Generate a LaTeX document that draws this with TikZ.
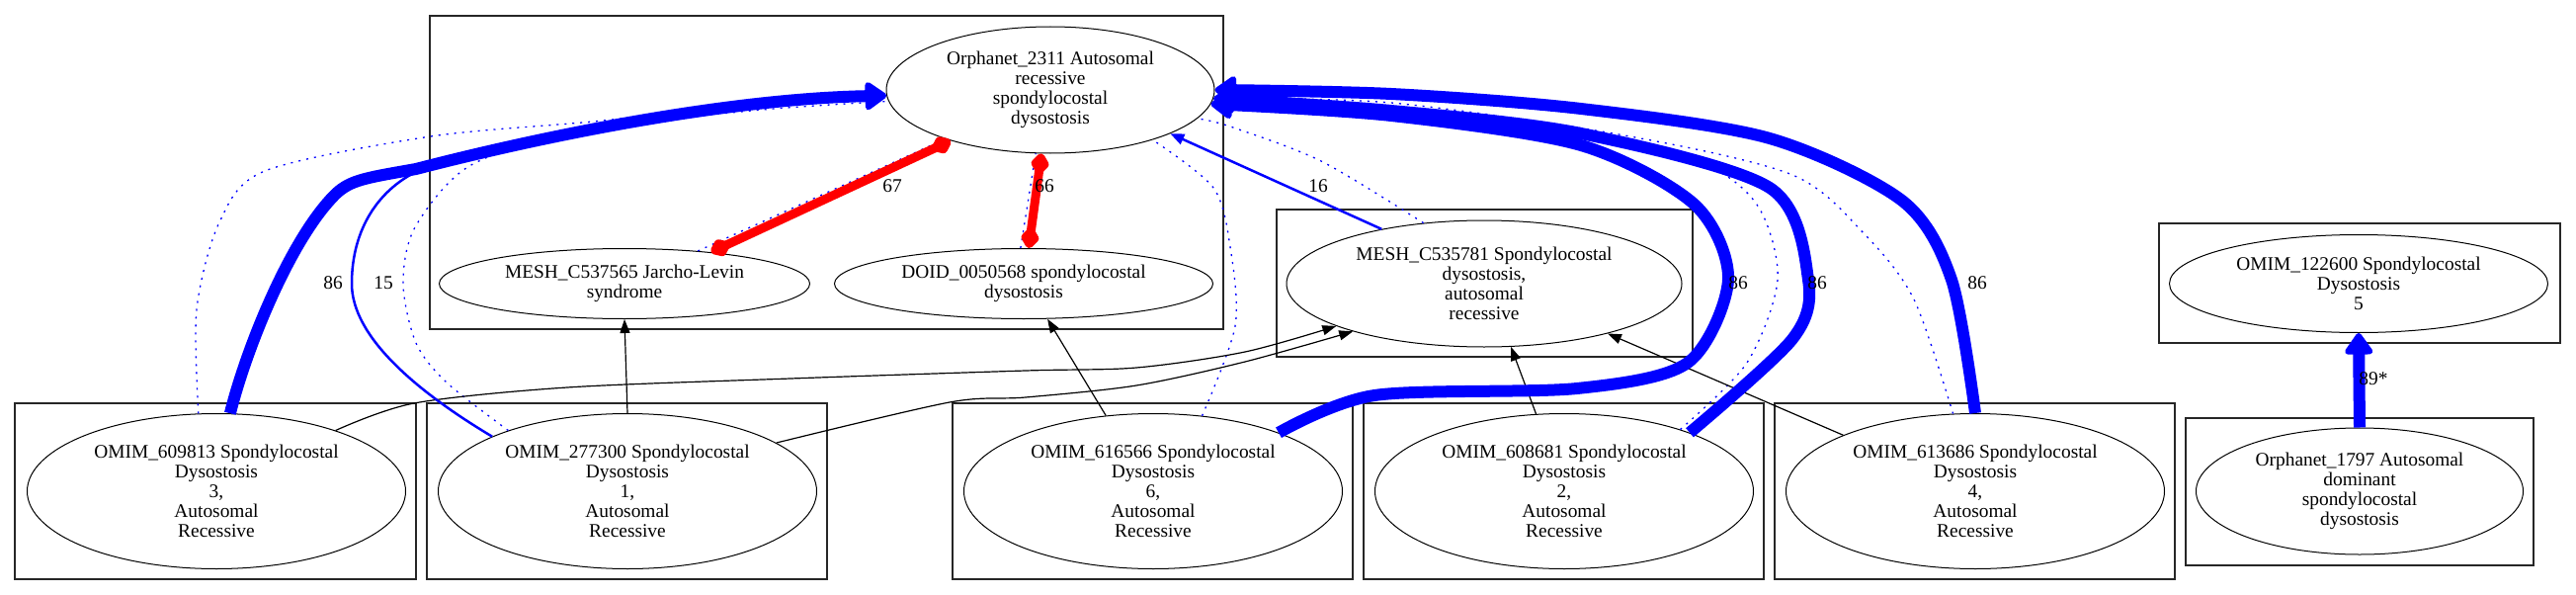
\documentclass[tikz,border=0pt]{standalone}
\usepackage{fontspec}
\setmainfont{Liberation Serif}
\usetikzlibrary{shapes.geometric,arrows.meta}

\begin{document}
\begin{tikzpicture}[x=1pt,y=-1pt,
    term/.style={draw,ellipse,inner sep=0pt,line width=1pt,align=center,
      font=\fontsize{19.4}{20}\selectfont},
    wlabel/.style={inner sep=0pt,font=\fontsize{19.4}{20}\selectfont},
    group/.style={draw=black!85,line width=1.3pt},
    isa/.style={line width=1.2pt,-{Triangle[length=14pt,width=10pt]}},
    link/.style={blue,line width=1.3pt,dash pattern=on 2pt off 6pt},
    weak/.style={blue,line width=2.5pt,-{Triangle[length=14pt,width=11pt]}},
    strong/.style={blue,line width=12pt,-{Triangle[length=24pt,width=32pt,round]}},
    clash/.style={red,line width=9pt,
      {Diamond[length=26pt,width=20pt,round]}-{Diamond[length=26pt,width=20pt,round]}}]

  \useasboundingbox (0,0) rectangle (2607,602);

  % clusters
  \draw[group] (435,16) rectangle (1238,333);
  \draw[group] (1292,212) rectangle (1713,361);
  \draw[group] (2185,226) rectangle (2591,347);
  \draw[group] (2212,423) rectangle (2564,572);
  \draw[group] (15,408) rectangle (421,586);
  \draw[group] (432,408) rectangle (837,586);
  \draw[group] (964,408) rectangle (1369,586);
  \draw[group] (1380,408) rectangle (1785,586);
  \draw[group] (1796,408) rectangle (2201,586);

  % terms in the upper row
  \node[term,minimum width=332pt,minimum height=128pt] (orph2311) at (1063,91)
    {Orphanet\_2311 Autosomal\\recessive\\spondylocostal\\dysostosis};
  \node[term,minimum width=375pt,minimum height=71pt] (mesh537565) at (632,287)
    {MESH\_C537565 Jarcho-Levin\\syndrome};
  \node[term,minimum width=383pt,minimum height=71pt] (doid50568) at (1036,287)
    {DOID\_0050568 spondylocostal\\dysostosis};
  \node[term,minimum width=400pt,minimum height=128pt] (mesh535781) at (1502,287)
    {MESH\_C535781 Spondylocostal\\dysostosis,\\autosomal\\recessive};
  \node[term,minimum width=383pt,minimum height=99pt] (omim122600) at (2387,287)
    {OMIM\_122600 Spondylocostal\\Dysostosis\\5};
  \node[term,minimum width=331pt,minimum height=128pt] (orph1797) at (2388,497)
    {Orphanet\_1797 Autosomal\\dominant\\spondylocostal\\dysostosis};

  % OMIM terms in the lower row
  \node[term,minimum width=383pt,minimum height=157pt] (omim609813) at (219,497)
    {OMIM\_609813 Spondylocostal\\Dysostosis\\3,\\Autosomal\\Recessive};
  \node[term,minimum width=383pt,minimum height=157pt] (omim277300) at (635,497)
    {OMIM\_277300 Spondylocostal\\Dysostosis\\1,\\Autosomal\\Recessive};
  \node[term,minimum width=383pt,minimum height=157pt] (omim616566) at (1167,497)
    {OMIM\_616566 Spondylocostal\\Dysostosis\\6,\\Autosomal\\Recessive};
  \node[term,minimum width=383pt,minimum height=157pt] (omim608681) at (1583,497)
    {OMIM\_608681 Spondylocostal\\Dysostosis\\2,\\Autosomal\\Recessive};
  \node[term,minimum width=383pt,minimum height=157pt] (omim613686) at (1999,497)
    {OMIM\_613686 Spondylocostal\\Dysostosis\\4,\\Autosomal\\Recessive};

  % dotted links into Orphanet_2311
  \draw[link] plot[smooth] coordinates {(omim609813.103) (199,313) (222,225) (268,173) (436,138) (600,123) (760,106) (orph2311.181)};
  \draw[link] plot[smooth] coordinates {(omim277300.153) (452,387) (421,347) (408,287) (420,230) (475,168) (585,133) (760,112) (orph2311.184)};
  \draw[link] (mesh537565.24) -- (orph2311.205);
  \draw[link] (doid50568.95) -- (orph2311.257);
  \draw[link] plot[smooth] coordinates {(omim616566.57) (1250,330) (1245,250) (1228,190) (orph2311.334)};
  \draw[link] plot[smooth] coordinates {(mesh535781.135) (1337,163) (1245,128) (orph2311.349)};
  \draw[link] plot[smooth] coordinates {(omim608681.28) (1768,367) (1799,283) (1780,210) (1726,167) (1600,138) (1408,108) (orph2311.356)};
  \draw[link] plot[smooth] coordinates {(omim613686.106) (1937,303) (1887,237) (1814,177) (1644,137) (1408,104) (orph2311.357)};

  % black is-a arrows
  \draw[isa] (omim277300.90) -- (mesh537565.270);
  \draw[isa] (omim616566.122) -- (doid50568.304);
  \draw[isa] plot[smooth] coordinates {(omim609813.27) (419,408) (574,392) (800,383) (1038,375) (1150,372) (1260,356) (mesh535781.196)};
  \draw[isa] plot[smooth] coordinates {(omim277300.18) (961,407) (1038,402) (1150,390) (1260,366) (mesh535781.200)};
  \draw[isa] (omim608681.110) -- (mesh535781.293);
  \draw[isa] (omim613686.157) -- (mesh535781.338);

  % weak blue matches
  \draw[weak] (omim277300.158) .. controls (420,395) and (356,340) .. (356,287)
    .. controls (356,230) and (385,190) .. (425,172)
    .. controls (560,135) and (740,102) .. (orph2311.182);
  \draw[weak] (mesh535781.152) -- (orph2311.340);

  % strong blue matches
  \draw[strong] (omim609813.80) .. controls (250,350) and (295,240) .. (340,196)
    .. controls (355,182) and (370,180) .. (421,171)
    .. controls (560,135) and (740,100) .. (orph2311.182);
  \draw[strong] plot[smooth] coordinates {(omim616566.25) (1391,400) (1596,393) (1708,367) (1749,283) (1715,207) (1600,147) (1408,117) (orph2311.355)};
  \draw[strong] plot[smooth] coordinates {(omim608681.25) (1814,343) (1830,283) (1791,190) (1600,135) (1408,112) (orph2311.357)};
  \draw[strong] plot[smooth] coordinates {(omim613686.90) (1975,283) (1925,203) (1791,140) (1600,110) (1408,95) (orph2311.0)};
  \draw[strong] (orph1797.90) -- (omim122600.270);

  % red conflicts
  \draw[clash] (mesh537565.20) -- (orph2311.207);
  \draw[clash] (doid50568.82) -- (orph2311.262);

  % edge weights
  \node[wlabel] (w86a) at (337,286) {86};
  \node[wlabel] (w15) at (388,286) {15};
  \node[wlabel] (w67) at (903,188) {67};
  \node[wlabel] (w66) at (1057,188) {66};
  \node[wlabel] (w16) at (1334,188) {16};
  \node[wlabel] (w86b) at (1759,286) {86};
  \node[wlabel] (w86c) at (1839,286) {86};
  \node[wlabel] (w86d) at (2001,286) {86};
  \node[wlabel] (w89) at (2402,383) {89*};
\end{tikzpicture}
\end{document}
